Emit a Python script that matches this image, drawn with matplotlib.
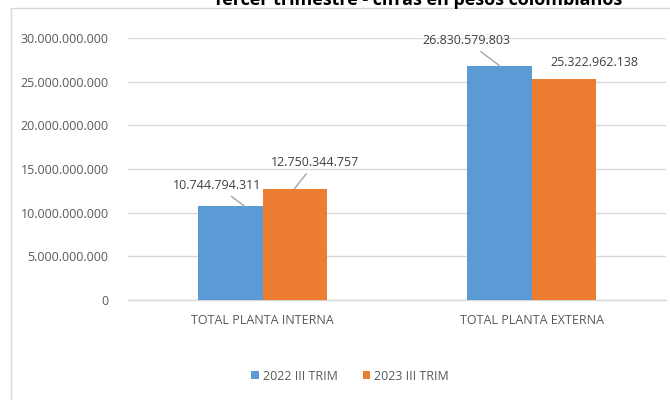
import matplotlib
matplotlib.use("Agg")
import matplotlib.pyplot as plt
from matplotlib.patches import Rectangle
import numpy as np

categories = ["TOTAL PLANTA INTERNA", "TOTAL PLANTA EXTERNA"]
series_names = ["2022 III TRIM", "2023 III TRIM"]
values_2022 = [10744794311, 26830579803]
values_2023 = [12750344757, 25322962138]
yticks = [0, 5e9, 10e9, 15e9, 20e9, 25e9, 30e9]
title = "Tercer trimestre - cifras en pesos colombianos"

def fmt(v):
    return f"{int(v):,}".replace(",", ".")

plt.rcParams['font.family'] = ['Open Sans', 'DejaVu Sans']

fig = plt.figure(figsize=(6.7, 4.0), dpi=100)
W, H = 670, 400
ax = fig.add_axes([128 / W, 1 - 300 / H, (666 - 128) / W, (300 - 38) / H])

# chart frame
fig.patches.append(Rectangle((11 / W, -0.1), 2, 1 - 8 / H + 0.1, transform=fig.transFigure,
                             fill=False, edgecolor="#D9D9D9", linewidth=1.0))

x = np.arange(len(categories))
bw = 0.238
c1, c2 = "#5B9BD5", "#ED7D31"
b1 = ax.bar(x - bw / 2, values_2022, bw, color=c1, label=series_names[0], zorder=3)
b2 = ax.bar(x + bw / 2, values_2023, bw, color=c2, label=series_names[1], zorder=3)

ax.set_xlim(-0.5, 1.5)
ax.set_ylim(0, 30e9)
ax.set_yticks(yticks)
ax.set_yticklabels([fmt(v) for v in yticks], fontsize=9.0, color="#595959")
ax.set_xticks(x)
ax.set_xticklabels(categories, fontsize=9.0, color="#595959")
ax.tick_params(axis="y", length=0, pad=14)
ax.tick_params(axis="x", length=0, pad=10)
for s in ["top", "right", "left"]:
    ax.spines[s].set_visible(False)
ax.spines["bottom"].set_color("#D9D9D9")
ax.spines["bottom"].set_linewidth(1.0)
ax.grid(axis="y", color="#D9D9D9", linewidth=1.0, zorder=0)
ax.set_axisbelow(True)

# data labels with leader lines (offsets in points, anchor shift in data units)
lab_col = "#404040"
offsets_2022 = [(-20, 15), (-24, 18)]
anchor_2022 = [0.052, 0.0]
offsets_2023 = [(15, 19), (22, 12)]
for i in range(len(categories)):
    for xv, v, off, show_line in [
        (x[i] - bw / 2 + anchor_2022[i], values_2022[i], offsets_2022[i], True),
        (x[i] + bw / 2, values_2023[i], offsets_2023[i], i == 0),
    ]:
        ax.annotate(fmt(v), xy=(xv, v), xytext=off, textcoords="offset points",
                    ha="center", va="center", fontsize=9.0, color=lab_col,
                    annotation_clip=False,
                    arrowprops=dict(arrowstyle="-", color="#A6A6A6", lw=1.0,
                                    shrinkA=2, shrinkB=0) if show_line else None)

fig.legend(handles=[b1, b2], labels=series_names, loc="center",
           bbox_to_anchor=(350 / W, 1 - 376 / H), ncol=2, frameon=False,
           fontsize=9.0, labelcolor="#595959", handlelength=0.6, handleheight=0.6,
           handletextpad=0.3, columnspacing=2.0)

fig.text(418 / W, 1 - 5 / H, title, ha="center", va="baseline", fontsize=13,
         fontweight="bold", color="black")

fig.savefig("out.png", dpi=100)
